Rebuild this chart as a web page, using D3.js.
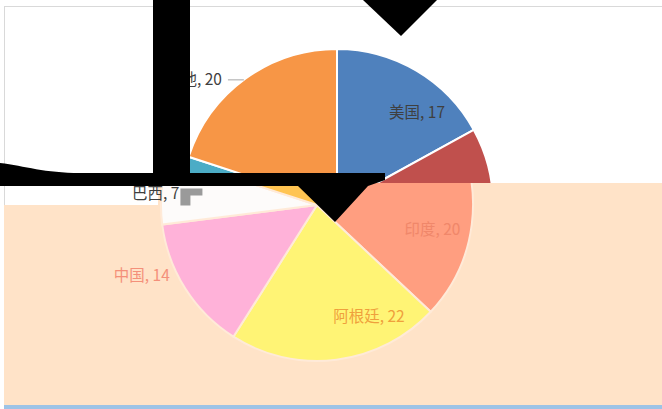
<!DOCTYPE html>
<html>
<head>
<meta charset="utf-8">
<script src="https://cdn.jsdelivr.net/npm/d3@7"></script>
<style>
  html, body { margin: 0; padding: 0; background: #fff; }
  svg { display: block; }
  .lbl { font-family: "Noto Sans CJK SC", "Noto Sans", sans-serif; font-size: 15.5px; }
</style>
</head>
<body>
<div id="chart"></div>
<script>
/* DATA */
const countries = ["美国", "印度", "阿根廷", "中国", "巴西", "其他"];
const shares = [17, 20, 22, 14, 7, 20];
const colorsTop = ["#4F81BD", "#C0504D", "#9BBB59", "#8064A2", "#4BACC6", "#F79646"];
const colorsBottom = ["#A9C9EE", "#FF9E80", "#FFF475", "#FFB2D9", "#FDFBFA", "#FFC452"];
const textBottom = ["#F0876A", "#F0876A", "#EFA03C", "#F4907A", "#999999", "#999999"];

/* CONSTANTS */
const width = 662,
  height = 409,
  radius = 156,
  center = { x: 337, y: 205 },
  shift = -20; // the lower band is offset to the left

// label placement: angle nudge (deg) from slice middle, distance from centre, anchor
const labelLayout = {
  "美国": { dA: 10.4, r: 122, anchor: "middle" },
  "印度": { dA: 4.8, r: 118, anchor: "middle" },
  "阿根廷": { dA: -17.8, r: 123, anchor: "middle" },
  "中国": { dA: 10.4, r: 189, anchor: "middle" },
  "巴西": { dA: -1.2, r: 158, anchor: "end" },
  "其他": { dA: -6.6, r: 170, anchor: "end" }
};

const data = countries.map((c, i) => ({ name: c, value: shares[i], i }));

const pie = d3.pie().sort(null).value(d => d.value);
const arcs = pie(data);
const arc = d3.arc().innerRadius(0).outerRadius(radius);

function labelPos(d, cx, cy) {
  const L = labelLayout[d.data.name];
  const a = (d.startAngle + d.endAngle) / 2 + (L.dA * Math.PI) / 180;
  return [cx + L.r * Math.sin(a), cy - L.r * Math.cos(a)];
}

const svg = d3.select("#chart").append("svg")
  .attr("width", width)
  .attr("height", height);

// chart area frame
svg.append("rect")
  .attr("x", 4.5).attr("y", 6.5)
  .attr("width", 700).attr("height", 420)
  .attr("fill", "#fff")
  .attr("stroke", "#D9D9D9");

// upper pie
const gTop = svg.append("g").attr("transform", `translate(${center.x},${center.y})`);
gTop.selectAll("path")
  .data(arcs)
  .join("path")
  .attr("d", arc)
  .attr("fill", d => colorsTop[d.data.i])
  .attr("stroke", "#fff")
  .attr("stroke-width", 2);

// lower band, recoloured and shifted
const defs = svg.append("defs");
defs.append("clipPath").attr("id", "band")
  .append("path")
  .attr("d", "M158,183H662V405H4V205H158Z");

const gBand = svg.append("g").attr("clip-path", "url(#band)");
gBand.append("rect")
  .attr("x", 0).attr("y", 0)
  .attr("width", width).attr("height", height)
  .attr("fill", "#FFE3C8");

gBand.append("g")
  .attr("transform", `translate(${center.x + shift},${center.y})`)
  .selectAll("path")
  .data(arcs)
  .join("path")
  .attr("d", arc)
  .attr("fill", d => colorsBottom[d.data.i])
  .attr("stroke", "#FFEAD8")
  .attr("stroke-width", 2);

gBand.selectAll("text")
  .data(arcs.filter(d => labelPos(d, center.x + shift, center.y)[1] > 200))
  .join("text")
  .attr("class", "lbl")
  .attr("x", d => labelPos(d, center.x + shift, center.y)[0])
  .attr("y", d => labelPos(d, center.x + shift, center.y)[1])
  .attr("dy", "0.35em")
  .attr("text-anchor", d => labelLayout[d.data.name].anchor)
  .attr("fill", d => textBottom[d.data.i])
  .text(d => `${d.data.name}, ${d.data.value}`);

// upper labels
const upper = arcs.filter(d => labelPos(d, center.x, center.y)[1] < 200);
svg.selectAll("text.top")
  .data(upper)
  .join("text")
  .attr("class", "lbl top")
  .attr("x", d => labelPos(d, center.x, center.y)[0])
  .attr("y", d => labelPos(d, center.x, center.y)[1])
  .attr("dy", "0.35em")
  .attr("text-anchor", d => labelLayout[d.data.name].anchor)
  .attr("fill", "#3F3F3F")
  .text(d => `${d.data.name}, ${d.data.value}`);

// leader lines for outside labels
upper.filter(d => labelLayout[d.data.name].anchor === "end").forEach(d => {
  const [x, y] = labelPos(d, center.x, center.y);
  if (y < 150) {
    const dy = y - center.y;
    const edge = center.x - Math.sqrt(radius * radius - dy * dy);
    svg.append("line")
      .attr("x1", x + 6).attr("x2", edge)
      .attr("y1", y).attr("y2", y)
      .attr("stroke", "#A6A6A6");
  } else {
    svg.append("path")
      .attr("d", `M${x + 1},${y - 5}h22v7h-12v10h-10Z`)
      .attr("fill", "#9A9A9A");
  }
});

// occluding shapes
svg.append("path")
  .attr("d", "M0,163C25,166 45,173 80,173H153V0H190V173H385V180L368,186L335,222L298,186H0Z")
  .attr("fill", "#000");
svg.append("path")
  .attr("d", "M363,0H437L401,36Z")
  .attr("fill", "#000");

// bottom rule
svg.append("rect")
  .attr("x", 4).attr("y", 405)
  .attr("width", width).attr("height", 4)
  .attr("fill", "#9DC3E6");
</script>
</body>
</html>
